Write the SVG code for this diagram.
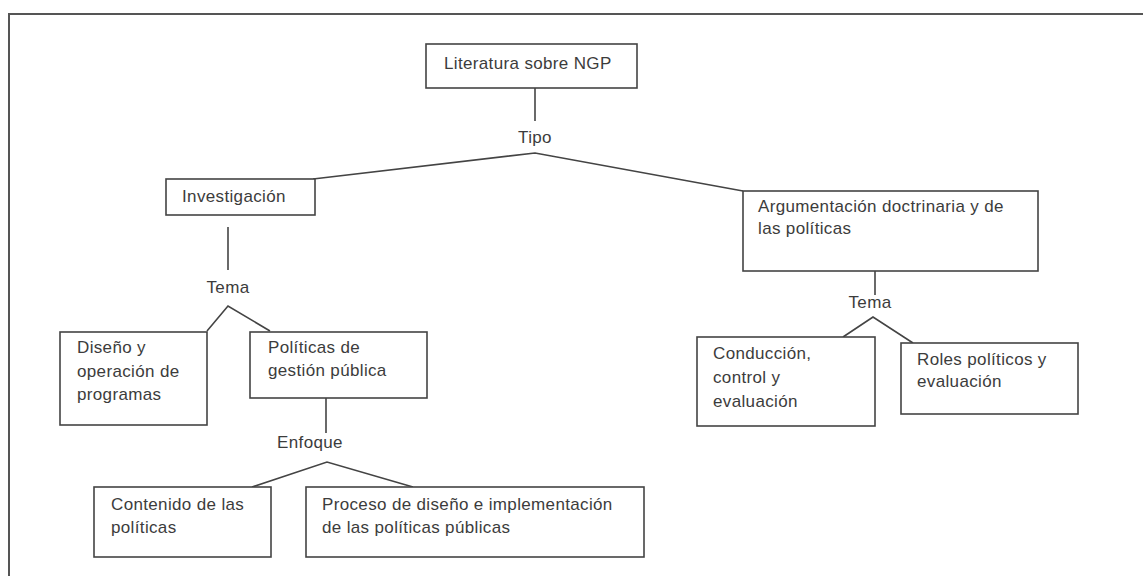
<svg xmlns="http://www.w3.org/2000/svg" width="1143" height="576" viewBox="0 0 1143 576">
  <style>
    .box { fill: #ffffff; stroke: #444444; stroke-width: 1.6; }
    .frame { fill: none; stroke: #555555; stroke-width: 2; }
    .link { fill: none; stroke: #444444; stroke-width: 1.6; }
    text { font-family: "Liberation Sans", Arial, sans-serif; font-size: 17px; letter-spacing: 0.35px; fill: #3c3c3c; }
    .mid { text-anchor: middle; }
  </style>
  <rect x="0" y="0" width="1143" height="576" fill="#ffffff"/>
  <!-- outer frame (runs past the right and bottom edges) -->
  <path class="frame" d="M9,590 V14 H1160"/>

  <g id="connectors">
    <!-- root to type split -->
    <path class="link" d="M535,88 V121"/>
    <path class="link" d="M313,179 L535,153 L743,191"/>
    <!-- Investigación to theme split -->
    <path class="link" d="M228,227 V270"/>
    <path class="link" d="M207,331 L228,306 L270,331"/>
    <!-- Políticas de gestión pública to approach split -->
    <path class="link" d="M326,398 V433"/>
    <path class="link" d="M252,487 L327,462 L413,487"/>
    <!-- Argumentación to theme split -->
    <path class="link" d="M875,271 V295"/>
    <path class="link" d="M843,337 L873,317 L913,343"/>
  </g>

  <g id="label-tipo"><text class="mid" x="535" y="143">Tipo</text></g>
  <g id="label-tema-1"><text class="mid" x="228" y="293">Tema</text></g>
  <g id="label-enfoque"><text class="mid" x="310" y="448">Enfoque</text></g>
  <g id="label-tema-2"><text class="mid" x="870" y="308">Tema</text></g>

  <g id="node-literatura">
    <rect class="box" x="426" y="44" width="211" height="44"/>
    <text x="444" y="69">Literatura sobre NGP</text>
  </g>
  <g id="node-investigacion">
    <rect class="box" x="166" y="179" width="149" height="36"/>
    <text x="182" y="202">Investigación</text>
  </g>
  <g id="node-argumentacion">
    <rect class="box" x="743" y="191" width="295" height="80"/>
    <text x="758" y="212">Argumentación doctrinaria y de</text>
    <text x="758" y="234">las políticas</text>
  </g>
  <g id="node-diseno">
    <rect class="box" x="60" y="332" width="147" height="93"/>
    <text x="77" y="353">Diseño y</text>
    <text x="77" y="377">operación de</text>
    <text x="77" y="400">programas</text>
  </g>
  <g id="node-politicas">
    <rect class="box" x="250" y="332" width="177" height="66"/>
    <text x="268" y="353">Políticas de</text>
    <text x="268" y="376">gestión pública</text>
  </g>
  <g id="node-contenido">
    <rect class="box" x="94" y="487" width="177" height="70"/>
    <text x="111" y="510">Contenido de las</text>
    <text x="111" y="533">políticas</text>
  </g>
  <g id="node-proceso">
    <rect class="box" x="306" y="487" width="338" height="70"/>
    <text x="322" y="510">Proceso de diseño e  implementación</text>
    <text x="322" y="533">de las políticas públicas</text>
  </g>
  <g id="node-conduccion">
    <rect class="box" x="697" y="337" width="178" height="89"/>
    <text x="713" y="359">Conducción,</text>
    <text x="713" y="383">control y</text>
    <text x="713" y="407">evaluación</text>
  </g>
  <g id="node-roles">
    <rect class="box" x="901" y="343" width="177" height="71"/>
    <text x="917" y="365">Roles políticos y</text>
    <text x="917" y="387">evaluación</text>
  </g>
</svg>
